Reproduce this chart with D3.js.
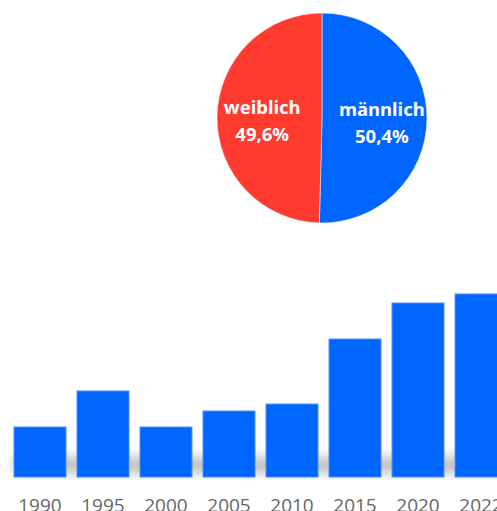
<!DOCTYPE html>
<html><head><meta charset="utf-8">
<script src="https://cdn.jsdelivr.net/npm/d3@7"></script>
<style>html,body{margin:0;padding:0;background:#fff;overflow:hidden}</style>
</head><body>
<svg id="c" width="497" height="511"></svg>
<script>
const pieLabels = ["männlich", "weiblich"];
const pieValues = [50.4, 49.6];
const pieColors = ["#0066ff", "#ff3b30"];

const years = ["1990","1995","2000","2005","2010","2015","2020","2022"];
const barValues = [50, 86, 50, 66, 73, 138, 174, 183];

const svg = d3.select("#c");
const defs = svg.append("defs");
const f = defs.append("filter").attr("id","blur").attr("x","-20%").attr("y","-300%").attr("width","140%").attr("height","700%");
f.append("feGaussianBlur").attr("stdDeviation", 6);
defs.append("clipPath").attr("id","clipBase").append("rect").attr("x",0).attr("y",0).attr("width",497).attr("height",480);

// Pie
const cx = 322, cy = 118, r = 105;
const pie = d3.pie().sort(null).value(d => d)(pieValues);
const arc = d3.arc().innerRadius(0).outerRadius(r);
const labelArc = d3.arc().innerRadius(r*0.57).outerRadius(r*0.57);
const pg = svg.append("g").attr("transform", `translate(${cx},${cy})`);
pg.selectAll("path").data(pie).join("path")
  .attr("d", arc).attr("fill", (d,i) => pieColors[i])
  .attr("stroke", "#fff").attr("stroke-width", 0.5);
pie.forEach((d,i) => {
  const [x,y] = labelArc.centroid(d);
  const t = pg.append("text").attr("text-anchor","middle")
    .attr("font-family","'Noto Sans', sans-serif").attr("font-weight","bold")
    .attr("font-size", 18.5).attr("fill","#fff");
  t.append("tspan").attr("x", x).attr("y", y - 3).text(pieLabels[i]);
  t.append("tspan").attr("x", x).attr("y", y + 24).text(pieValues[i].toFixed(1).replace(".", ",") + "%");
});

// Bars
const x = d3.scaleBand().domain(years).range([14, 507]).paddingInner(0.175).paddingOuter(0);
const y = d3.scaleLinear().domain([0, 200]).range([477, 277]);
const bg = svg.append("g");
bg.append("g").attr("clip-path","url(#clipBase)").append("rect")
  .attr("x", x(years[0])).attr("y", y(0) - 20).attr("width", 497 - x(years[0]) + 20).attr("height", 16)
  .attr("fill", "#bdbdbd").attr("filter","url(#blur)");
bg.selectAll("rect.bar").data(years).join("rect").attr("class","bar")
  .attr("x", d => x(d)).attr("width", x.bandwidth())
  .attr("y", (d,i) => y(barValues[i])).attr("height", (d,i) => y(0) - y(barValues[i]))
  .attr("fill", "#0066ff").attr("stroke", "#4d8fff").attr("stroke-width", 1);

const axis = d3.axisBottom(x).tickSize(0).tickPadding(0);
const ag = svg.append("g").attr("transform", `translate(0,${y(0)})`).call(axis);
ag.select(".domain").remove();
ag.selectAll("text").attr("dy", null).attr("y", 35)
  .attr("font-family","'Open Sans', sans-serif").attr("font-size", 19).attr("fill","#666");
</script>
</body></html>
